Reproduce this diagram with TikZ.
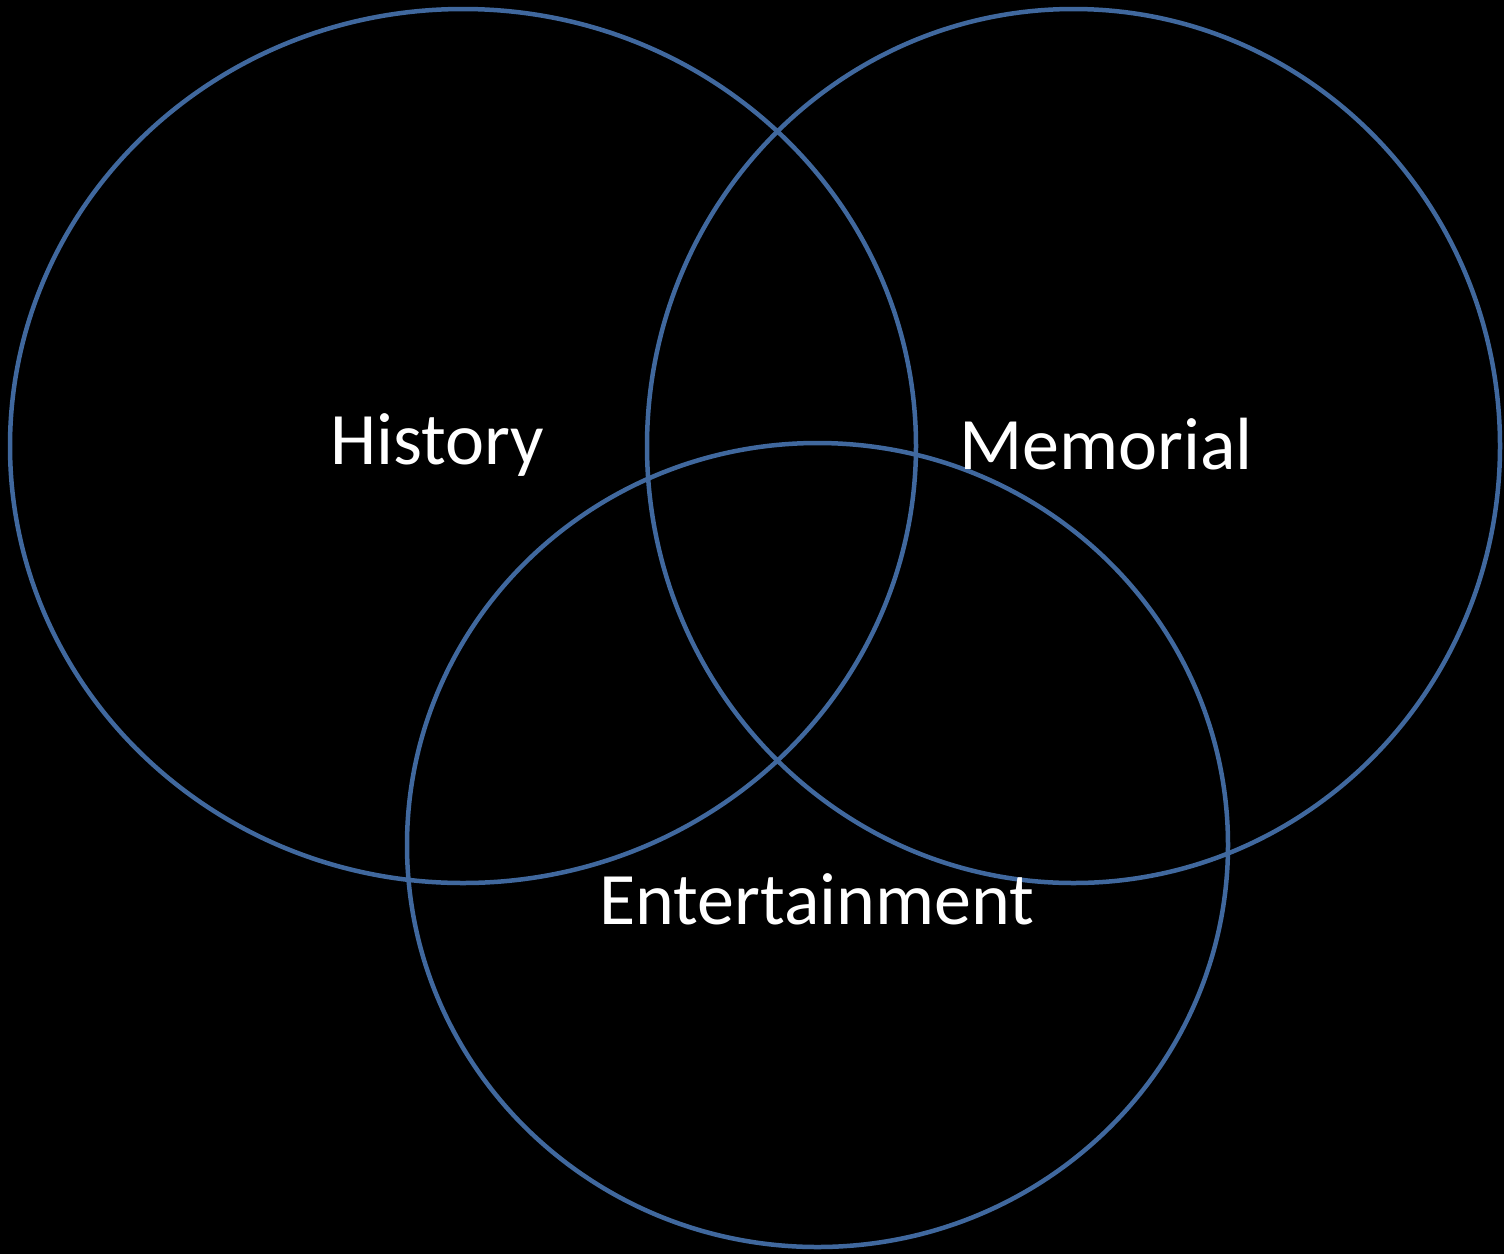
\documentclass[tikz,border=0pt]{standalone}
\usepackage{fontspec}
\setmainfont{Carlito}
\definecolor{vennblue}{RGB}{64,104,158}
\begin{document}
\begin{tikzpicture}[x=1pt,y=-1pt,
  venn/.style={draw=vennblue,line width=4.5pt},
  lbl/.style={text=white,font=\fontsize{74}{88}\selectfont,anchor=base,inner sep=0pt}]
\fill[black] (0,0) rectangle (1504,1254);
\useasboundingbox (0,0) rectangle (1504,1254);
\draw[venn] (463,446) ellipse [x radius=453, y radius=437];
\draw[venn] (1073.5,446) ellipse [x radius=426.5, y radius=437];
\draw[venn] (817.5,845) ellipse [x radius=410.5, y radius=402];
\node[lbl] (history) at (437.5,464) {History};
\node[lbl] (memorial) at (1106,469) {Memorial};
\node[lbl] (entertainment) at (817,924) {Entertainment};
\end{tikzpicture}
\end{document}
